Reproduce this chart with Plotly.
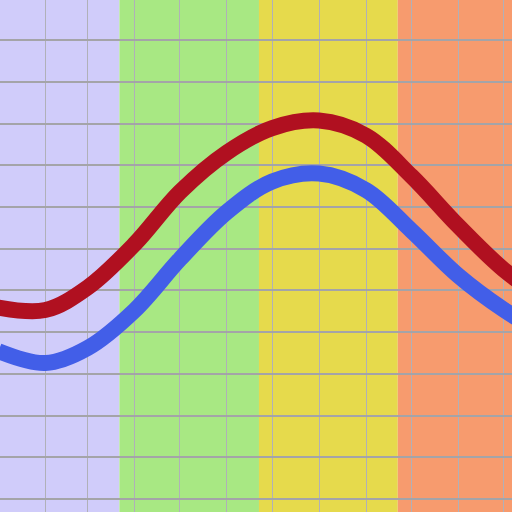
import plotly.graph_objects as go

# Data
dates = ["2023-01-01", "2023-02-01", "2023-03-01", "2023-04-01", "2023-05-01",
         "2023-06-01", "2023-07-01", "2023-08-01", "2023-09-01", "2023-10-01",
         "2023-11-01", "2023-12-01", "2023-12-31"]
high = [9.18, 9.06, 10.14, 12.22, 14.72, 16.61, 17.78, 18.14, 17.42, 15.48, 13.09, 11.00, 9.44]
low = [7.09, 6.52, 7.24, 9.04, 11.50, 13.76, 15.22, 15.60, 14.81, 12.87, 10.71, 9.08, 7.77]

season_edges = ["2022-12-21", "2023-03-22", "2023-06-22 06:00", "2023-09-22", "2023-12-21"]
season_colors = ["#D0CCFA", "#A8E883", "#E6DA4C", "#F79B6E"]

x_range = ["2023-01-02 01:30", "2023-12-06 12:00"]
y_range = [-0.62, 23.92]

fig = go.Figure()
fig.add_trace(go.Scatter(x=dates, y=high, mode="lines",
                         line=dict(color="#B01020", width=16, shape="spline"),
                         showlegend=False))
fig.add_trace(go.Scatter(x=dates, y=low, mode="lines",
                         line=dict(color="#425EE8", width=16, shape="spline"),
                         showlegend=False))

for i, c in enumerate(season_colors):
    fig.add_vrect(x0=season_edges[i], x1=season_edges[i + 1], fillcolor=c,
                  opacity=1, line_width=0, layer="below")

fig.update_layout(
    width=512, height=512,
    margin=dict(l=0, r=0, t=0, b=0),
    paper_bgcolor="white", plot_bgcolor="white",
    xaxis=dict(type="date", range=x_range, dtick="M1", tick0="2023-01-01",
               showticklabels=False, showgrid=True, gridcolor="#B0B0B8",
               gridwidth=1, zeroline=False, showline=False, ticks=""),
    yaxis=dict(range=y_range, dtick=2, tick0=0, showticklabels=False,
               showgrid=True, gridcolor="#A4A4A8", gridwidth=2,
               zeroline=False, showline=False, ticks=""),
)

fig.write_html("out.html", config={"displayModeBar": False},
               post_script="document.body.style.margin='0px';")
